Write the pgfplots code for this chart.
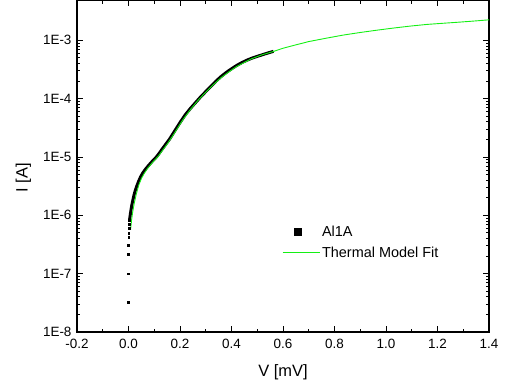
\documentclass[border=0pt]{standalone}
\usepackage{pgfplots}
\pgfplotsset{compat=1.18}
\usepackage{fontspec}
\setmainfont{Liberation Sans}
\definecolor{fitgreen}{RGB}{20,240,20}
\pgfplotstableread{
V I
0.000 3.24e-8
0.000 1.00e-7
0.000 2.14e-7
0.000 3.09e-7
0.001 4.17e-7
0.001 5.01e-7
0.002 6.03e-7
0.003 7.08e-7
0.004 8.32e-7
}\lowdata
\pgfplotstableread{
V I
0.004 8.32e-7
0.006 9.55e-7
0.008 1.10e-6
0.010 1.26e-6
0.013 1.51e-6
0.017 1.82e-6
0.021 2.19e-6
0.026 2.63e-6
0.032 3.16e-6
0.039 3.80e-6
0.047 4.57e-6
0.056 5.37e-6
0.066 6.17e-6
0.077 7.08e-6
0.089 8.13e-6
0.100 9.12e-6
0.110 1.02e-5
0.120 1.17e-5
0.130 1.35e-5
0.140 1.55e-5
0.150 1.78e-5
0.160 2.04e-5
0.170 2.40e-5
0.180 2.82e-5
0.190 3.31e-5
0.200 3.89e-5
0.220 5.25e-5
0.240 6.76e-5
0.260 8.51e-5
0.280 1.07e-4
0.300 1.32e-4
0.320 1.62e-4
0.340 2.00e-4
0.360 2.40e-4
0.380 2.82e-4
0.400 3.24e-4
0.420 3.70e-4
0.440 4.14e-4
0.460 4.56e-4
0.480 4.95e-4
0.500 5.30e-4
0.520 5.65e-4
0.540 6.03e-4
0.563 6.46e-4
}\maindata
\pgfplotstableread{
V I
0.008 5.62e-7
0.012 8.32e-7
0.016 1.12e-6
0.022 1.58e-6
0.030 2.29e-6
0.040 3.31e-6
0.050 4.27e-6
0.060 5.13e-6
0.075 6.46e-6
0.090 7.76e-6
0.100 8.71e-6
0.115 1.02e-5
0.130 1.26e-5
0.150 1.66e-5
0.170 2.24e-5
0.190 3.09e-5
0.210 4.27e-5
0.240 6.46e-5
0.270 9.33e-5
0.300 1.29e-4
0.330 1.74e-4
0.360 2.29e-4
0.390 2.88e-4
0.420 3.55e-4
0.450 4.17e-4
0.480 4.86e-4
0.520 5.66e-4
0.563 6.43e-4
0.600 7.30e-4
0.641 8.15e-4
0.700 9.50e-4
0.770 1.09e-3
0.835 1.23e-3
0.900 1.36e-3
0.965 1.49e-3
1.029 1.62e-3
1.094 1.75e-3
1.159 1.87e-3
1.224 1.96e-3
1.288 2.05e-3
1.350 2.15e-3
1.405 2.25e-3
}\fitdata
\begin{document}
\begin{tikzpicture}
\useasboundingbox (-77bp,-57bp) rectangle (435bp,332bp);
\begin{axis}[
  at={(0,0)}, anchor=south west,
  scale only axis, width=412bp, height=332bp,
  xmin=-0.2, xmax=1.4,
  ymode=log, ymin=1e-8, ymax=4.9e-3,
  xtick={-0.2,0,0.2,0.4,0.6,0.8,1.0,1.2,1.4},
  xticklabels={-0.2,0.0,0.2,0.4,0.6,0.8,1.0,1.2,1.4},
  minor x tick num=1,
  ytick={1e-8,1e-7,1e-6,1e-5,1e-4,1e-3},
  yticklabels={1E-8,1E-7,1E-6,1E-5,1E-4,1E-3},
  tick align=inside,
  major tick length=6bp, minor tick length=3.5bp,
  every tick/.style={black, line width=0.8pt},
  axis line style={line width=1.3pt},
  ticklabel style={font=\fontsize{13.5}{15}\selectfont},
  xticklabel style={yshift=-4bp},
  yticklabel style={xshift=-2bp},
  xlabel={V [mV]}, ylabel={I [A]},
  every axis x label/.style={at={(axis description cs:0.5,-0.12)}, anchor=center, font=\fontsize{16.5}{18}\selectfont},
  every axis y label/.style={at={(axis description cs:-0.130,0.465)}, anchor=center, rotate=90, font=\fontsize{16.5}{18}\selectfont},
  legend style={draw=none, fill=none, at={(axis description cs:0.4975,0.325)}, anchor=north west,
    font=\fontsize{14.5}{16}\selectfont, row sep=4.5bp, inner sep=0pt},
  legend cell align=left,
  clip=true,
]
\addplot[only marks, mark=square*, mark size=0.9bp, black, forget plot] table[x=V,y=I]{\lowdata};
\addplot[black, line width=3bp,
  legend image code/.code={\path[draw=none] (0bp,-4bp) rectangle (37bp,4bp);\node[draw=none, fill=black, inner sep=0pt, minimum size=8bp] at (10bp,0bp) {};}]
  table[x=V,y=I]{\maindata};
\addlegendentry{Al1A}
\addplot[fitgreen, line width=0.9bp,
  legend image code/.code={\draw[fitgreen, line width=0.9bp] (0bp,0bp) -- (37bp,0bp);}]
  table[x=V,y=I]{\fitdata};
\addlegendentry{Thermal Model Fit}
\end{axis}
\end{tikzpicture}
\end{document}
